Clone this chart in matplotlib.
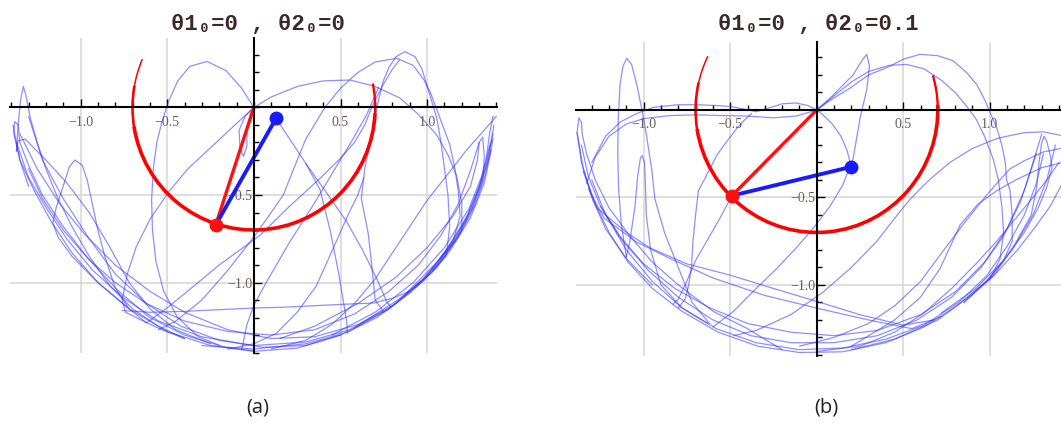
import matplotlib
matplotlib.use('Agg')
import matplotlib.pyplot as plt
from matplotlib.patches import Arc
from matplotlib.ticker import MultipleLocator

# ---------------- data ----------------
TITLE_A = "θ1₀=0 , θ2₀=0"
TITLE_B = "θ1₀=0 , θ2₀=0.1"
CAPTIONS = ["(a)", "(b)"]
X_TICKS = [-1.0, -0.5, 0.5, 1.0]
X_TICKLABELS = ["\u22121.0", "\u22120.5", "0.5", "1.0"]
Y_TICKS = [-1.0, -0.5]
Y_TICKLABELS = ["\u22121.0", "\u22120.5"]
GRID_X = [-1.0, -0.5, 0.5, 1.0]
GRID_Y = [-1.0, -0.5]
ARM1 = 0.7

# panel (a): pendulum state and traced path of bob 1 (arc angles in degrees)
A_BOB1 = (-0.22, -0.671)
A_BOB2 = (0.128, -0.062)
A_ARC = (156.8, 371.3)
# panel (b)
B_BOB1 = (-0.49, -0.49)
B_BOB2 = (0.2, -0.325)
B_ARC = (154.0, 376.4)

# traced strokes of bob 2 path, panel (a)
a01 = [(0,0),(-0.07,0.11),(-0.16,0.21),(-0.27,0.263),(-0.37,0.235),(-0.44,0.15),(-0.49,0.04),(-0.53,-0.08),(-0.56,-0.2),(-0.58,-0.35),(-0.59,-0.53),(-0.585,-0.7),(-0.565,-0.88),(-0.52,-1.05),(-0.44,-1.2),(-0.32,-1.31),(-0.17,-1.37),(0,-1.39)]
a02 = [(0,0),(-0.12,-0.11),(-0.25,-0.23),(-0.38,-0.35),(-0.49,-0.48),(-0.6,-0.64),(-0.68,-0.8),(-0.73,-0.95),(-0.76,-1.1),(-0.74,-1.17),(-0.66,-1.21),(-0.53,-1.27),(-0.4,-1.32)]
a03 = [(0,0),(0.1,0.06),(0.25,0.12),(0.4,0.152),(0.555,0.157),(0.7,0.12),(0.843,0.054),(0.95,-0.04),(1.055,-0.157),(1.12,-0.27),(1.17,-0.39),(1.2,-0.55),(1.2,-0.7),(1.13,-0.8),(1.05,-0.9),(0.93,-1.03)]
a04 = [(-0.55,-1.27),(-0.45,-1.22),(-0.3,-1.1),(-0.15,-0.93),(0.0,-0.74),(0.1,-0.6),(0.17,-0.5),(0.23,-0.35),(0.3,-0.18),(0.41,0.0),(0.5,0.11),(0.6,0.2),(0.7,0.26),(0.825,0.281),(0.92,0.24),(0.98,0.16),(1.017,0.09),(1.07,-0.05),(1.13,-0.21),(1.16,-0.35),(1.18,-0.48),(1.19,-0.62),(1.15,-0.76),(1.07,-0.87)]
a05 = [(0.75,-1.17),(0.7,-1.1),(0.68,-0.9),(0.66,-0.72),(0.62,-0.52),(0.64,-0.35),(0.68,-0.16),(0.71,0.0),(0.745,0.147),(0.78,0.23),(0.82,0.29),(0.872,0.319),(0.93,0.29),(0.97,0.22),(1.01,0.09),(1.055,-0.06),(1.08,-0.2),(1.1,-0.35),(1.12,-0.5),(1.13,-0.68),(1.11,-0.85),(1.03,-0.93)]
a06 = [(0.79,-1.14),(0.767,-1.11),(0.71,-0.98),(0.63,-0.82),(0.536,-0.653),(0.4,-0.46),(0.3,-0.32),(0.2,-0.17),(0.128,-0.062)]
a07 = [(0.635,-0.4),(0.6,-0.5),(0.55,-0.6),(0.46,-0.8),(0.36,-1.02),(0.25,-1.17),(0.13,-1.29),(0.0,-1.35),(-0.15,-1.38)]
a08 = [(0.84,0.27),(0.8,0.22),(0.74,0.12),(0.68,0.0),(0.64,-0.1),(0.58,-0.2),(0.5,-0.29),(0.382,-0.405),(0.2,-0.57),(0.036,-0.73),(-0.2,-0.9),(-0.407,-1.07),(-0.52,-1.16),(-0.62,-1.23)]
a09 = [(-0.76,-1.16),(-0.6,-1.17),(-0.4,-1.165),(-0.2,-1.155),(0.0,-1.146),(0.2,-1.14),(0.4,-1.13),(0.55,-1.123),(0.69,-1.117),(0.8,-1.09),(0.9,-1.05)]
a10 = [(-0.72,-1.15),(-0.9,-1.0),(-1.05,-0.85),(-1.13,-0.74),(-1.16,-0.66),(-1.14,-0.57),(-1.1,-0.45),(-1.065,-0.34),(-1.033,-0.3),(-0.99,-0.33),(-0.96,-0.42),(-0.93,-0.56),(-0.9,-0.7),(-0.86,-0.85),(-0.8,-1.03),(-0.72,-1.15),(-0.62,-1.23)]
a11 = [(-1.37,-0.25),(-1.36,-0.1),(-1.345,0.05),(-1.33,0.12),(-1.315,0.07),(-1.29,-0.06),(-1.25,-0.2),(-1.2,-0.35),(-1.13,-0.52),(-1.05,-0.68),(-0.95,-0.85),(-0.83,-1.02),(-0.7,-1.15),(-0.55,-1.25),(-0.4,-1.32)]
a12 = [(-1.3,-0.45),(-1.35,-0.3),(-1.385,-0.15),(-1.38,-0.08),(-1.36,-0.1),(-1.35,-0.2),(-1.3,-0.33),(-1.22,-0.5),(-1.1,-0.68),(-0.95,-0.87),(-0.78,-1.05),(-0.6,-1.2),(-0.4,-1.3),(-0.2,-1.36)]
a13 = [(-1.37,-0.25),(-1.36,-0.19),(-1.32,-0.18),(-1.28,-0.22),(-1.2,-0.3),(-1.08,-0.43),(-0.95,-0.6),(-0.83,-0.8),(-0.72,-1.0),(-0.6,-1.15),(-0.45,-1.27),(-0.25,-1.35)]
a14 = [(1.4,-0.05),(1.32,-0.14),(1.23,-0.24),(1.12,-0.38),(1.0,-0.53),(0.9,-0.68),(0.8,-0.83),(0.7,-0.98),(0.58,-1.12),(0.45,-1.24),(0.3,-1.33),(0.1,-1.38)]
a15 = [(0.58,-1.26),(0.83,-1.1),(1.03,-0.94),(1.17,-0.75),(1.26,-0.58),(1.32,-0.42),(1.33,-0.28),(1.32,-0.17),(1.3,-0.2),(1.29,-0.3),(1.25,-0.45),(1.15,-0.62),(1.0,-0.8),(0.82,-0.97),(0.6,-1.12),(0.35,-1.25),(0.15,-1.32)]
a16 = [(0.88,-1.06),(1.08,-0.86),(1.22,-0.65),(1.3,-0.46),(1.36,-0.28),(1.38,-0.18),(1.36,-0.22),(1.32,-0.38),(1.24,-0.58),(1.1,-0.8),(0.92,-1.0),(0.7,-1.17),(0.45,-1.3)]
a17 = [(0,0),(-0.05,-0.05),(-0.085,-0.13),(-0.08,-0.23),(-0.06,-0.28),(-0.04,-0.22),(-0.04,-0.12),(-0.02,-0.04),(0,0)]
a18 = [(-1.39,-0.1),(-1.35,-0.3),(-1.27,-0.47),(-1.17,-0.65),(-1.05,-0.83),(-0.9,-1.0),(-0.72,-1.15),(-0.5,-1.28),(-0.25,-1.36),(0,-1.393),(0.25,-1.375),(0.5,-1.3),(0.71,-1.2),(0.9,-1.06),(1.06,-0.91),(1.18,-0.74),(1.28,-0.55),(1.34,-0.37),(1.385,-0.1)]
a19 = [(-1.37,-0.2),(-1.3,-0.4),(-1.2,-0.57),(-1.08,-0.75),(-0.93,-0.93),(-0.75,-1.09),(-0.55,-1.22),(-0.3,-1.31),(0,-1.36),(0.3,-1.34),(0.55,-1.27),(0.78,-1.15),(0.98,-0.99),(1.13,-0.82),(1.25,-0.63),(1.33,-0.43),(1.37,-0.24)]
a20 = [(-1.35,-0.15),(-1.25,-0.35),(-1.12,-0.55),(-0.98,-0.72),(-0.8,-0.9),(-0.6,-1.05),(-0.4,-1.17),(-0.15,-1.27),(0.1,-1.32),(0.35,-1.31),(0.6,-1.24),(0.82,-1.12),(1.0,-0.96),(1.15,-0.77),(1.26,-0.57),(1.33,-0.37),(1.38,-0.15)]
a21 = [(-1.3,-0.05),(-1.22,-0.3),(-1.1,-0.52),(-0.95,-0.75),(-0.8,-0.95),(-0.62,-1.12),(-0.42,-1.25),(-0.2,-1.33),(0.05,-1.37),(0.3,-1.36),(0.5,-1.3)]
a22 = [(0.72,0.115),(0.65,-0.043),(0.56,-0.2),(0.45,-0.38),(0.343,-0.557),(0.2,-0.78),(0.074,-0.995),(0.0,-1.13),(-0.04,-1.24),(-0.07,-1.385)]
a23 = [(-1.3,-0.35),(-1.22,-0.52),(-1.1,-0.7),(-0.96,-0.86),(-0.8,-1.0),(-0.62,-1.12),(-0.4,-1.22),(-0.15,-1.28),(0.1,-1.3),(0.35,-1.27),(0.58,-1.18),(0.78,-1.05),(0.95,-0.9),(1.08,-0.73),(1.18,-0.55),(1.25,-0.36),(1.3,-0.2)]
a24 = [(-0.3,-1.36),(0.0,-1.38),(0.3,-1.35),(0.55,-1.28),(0.78,-1.15),(0.98,-0.98),(1.12,-0.8),(1.23,-0.62),(1.3,-0.45),(1.34,-0.3),(1.36,-0.15),(1.38,-0.05)]
a25 = [(0.3,-0.32),(0.382,-0.47),(0.44,-0.7),(0.49,-0.95),(0.536,-1.224),(0.54,-1.29)]
A_STROKES = [a01,a02,a03,a04,a05,a06,a07,a08,a09,a10,a11,a12,a13,a14,a15,a16,a17,a18,a19,a20,a21,a22,a23,a24,a25]

# traced strokes of bob 2 path, panel (b)
b01 = [(-1.1,-0.84),(-1.13,-0.65),(-1.145,-0.45),(-1.15,-0.25),(-1.147,-0.05),(-1.137,0.145),(-1.12,0.25),(-1.098,0.295),(-1.07,0.26),(-1.04,0.145),(-1.01,0.0),(-0.99,-0.106),(-0.954,-0.337),(-0.935,-0.51),(-0.88,-0.7),(-0.79,-0.925),(-0.72,-1.1),(-0.62,-1.22)]
b02 = [(-1.1,-0.84),(-1.08,-0.75),(-1.05,-0.55),(-1.035,-0.38),(-1.02,-0.28),(-1.01,-0.26),(-0.995,-0.3),(-0.99,-0.42),(-0.985,-0.6),(-0.96,-0.8),(-0.9,-1.0),(-0.78,-1.13),(-0.63,-1.22)]
b03 = [(-0.95,-1.0),(-1.1,-0.85),(-1.22,-0.68),(-1.3,-0.5),(-1.36,-0.3),(-1.385,-0.13),(-1.375,-0.045),(-1.36,-0.07),(-1.355,-0.14),(-1.33,-0.25),(-1.28,-0.4),(-1.2,-0.56),(-1.08,-0.72),(-0.95,-0.87),(-0.8,-1.0),(-0.6,-1.15),(-0.4,-1.25),(-0.2,-1.37)]
b04 = [(-1.3,-0.3),(-1.22,-0.15),(-1.137,-0.07),(-1.04,-0.02),(-0.944,0.015),(-0.8,0.03),(-0.694,0.03),(-0.58,0.025),(-0.5,0.02),(-0.42,0.005),(-0.35,-0.01),(-0.28,0.01),(-0.2,0.035),(-0.12,0.04),(-0.05,0.025),(0,0)]
b05 = [(-1.33,-0.42),(-1.28,-0.27),(-1.2,-0.15),(-1.1,-0.08),(-1.0,-0.05),(-0.85,-0.032),(-0.7,-0.028),(-0.55,-0.032),(-0.4,-0.035),(-0.25,-0.045),(-0.12,-0.035),(-0.05,-0.015),(0,0)]
b06 = [(0,0),(0.08,0.07),(0.15,0.14),(0.21,0.2),(0.26,0.28),(0.289,0.318),(0.305,0.25),(0.29,0.12),(0.25,-0.05),(0.21,-0.28),(0.15,-0.43),(0.077,-0.55),(-0.02,-0.676),(-0.12,-0.79),(-0.23,-0.905),(-0.36,-1.03),(-0.48,-1.15),(-0.6,-1.24)]
b07 = [(0,0),(0.07,0.05),(0.193,0.125),(0.3,0.2),(0.424,0.25),(0.5,0.29),(0.597,0.318),(0.7,0.31),(0.79,0.28),(0.87,0.21),(0.925,0.145),(0.97,0.06),(1.0,-0.01),(1.04,-0.1),(1.07,-0.2),(1.09,-0.3),(1.097,-0.395),(1.117,-0.46),(1.13,-0.6),(1.13,-0.75),(1.08,-0.86),(0.98,-0.98),(0.85,-1.1)]
b08 = [(0,0),(0.1,0.08),(0.2,0.16),(0.3,0.22),(0.42,0.255),(0.52,0.26),(0.62,0.235),(0.72,0.17),(0.8,0.1),(0.86,0.03),(0.92,-0.05),(0.97,-0.15),(1.02,-0.28),(1.05,-0.4),(1.07,-0.55),(1.08,-0.7),(1.06,-0.85),(1.0,-0.97)]
b09 = [(1.41,-0.145),(1.31,-0.125),(1.2,-0.13),(1.1,-0.15),(1.04,-0.164),(0.9,-0.22),(0.77,-0.3),(0.65,-0.4),(0.54,-0.51),(0.45,-0.62),(0.347,-0.751),(0.2,-0.9),(0.038,-1.04),(-0.15,-1.17),(-0.35,-1.26),(-0.48,-1.29)]
b10 = [(1.41,-0.22),(1.31,-0.24),(1.2,-0.29),(1.117,-0.337),(1.04,-0.42),(0.963,-0.51),(0.85,-0.65),(0.72,-0.82),(0.6,-0.98),(0.45,-1.12),(0.3,-1.22),(0.1,-1.3),(-0.1,-1.35)]
b11 = [(-0.376,-0.02),(-0.42,-0.06),(-0.462,-0.106),(-0.52,-0.18),(-0.578,-0.26),(-0.64,-0.38),(-0.684,-0.462),(-0.7,-0.6),(-0.715,-0.75),(-0.723,-0.886),(-0.74,-1.0),(-0.76,-1.08),(-0.8,-1.13)]
b12 = [(-0.49,-0.49),(-0.56,-0.62),(-0.63,-0.74),(-0.7,-0.86),(-0.76,-1.0),(-0.8,-1.08),(-0.83,-1.11)]
b13 = [(-1.35,-0.35),(-1.27,-0.56),(-1.1,-0.7),(-0.96,-0.79),(-0.75,-0.88),(-0.5,-0.944),(-0.25,-1.02),(0.02,-1.1),(0.25,-1.17),(0.5,-1.23),(0.68,-1.2)]
b14 = [(-1.32,-0.45),(-1.23,-0.617),(-1.05,-0.75),(-0.85,-0.848),(-0.6,-0.96),(-0.3,-1.06),(0.02,-1.137),(0.3,-1.2),(0.55,-1.25),(0.72,-1.18)]
b15 = [(0,0),(0.038,-0.03),(0.09,-0.08),(0.14,-0.15),(0.175,-0.23),(0.2,-0.325)]
b16 = [(0.85,-1.1),(1.02,-0.95),(1.15,-0.76),(1.24,-0.6),(1.27,-0.45),(1.285,-0.3),(1.3,-0.19),(1.315,-0.15),(1.33,-0.18),(1.35,-0.26),(1.36,-0.33),(1.33,-0.44),(1.28,-0.56),(1.2,-0.7),(1.08,-0.86),(0.92,-1.02),(0.72,-1.16)]
b17 = [(-1.385,-0.13),(-1.35,-0.33),(-1.29,-0.52),(-1.2,-0.7),(-1.09,-0.87),(-0.95,-1.02),(-0.78,-1.15),(-0.57,-1.27),(-0.34,-1.35),(-0.1,-1.386),(0.15,-1.382),(0.4,-1.33),(0.62,-1.24),(0.81,-1.12),(0.99,-0.97),(1.13,-0.8),(1.25,-0.6),(1.33,-0.4),(1.38,-0.2)]
b18 = [(-1.3,-0.4),(-1.22,-0.6),(-1.1,-0.8),(-0.95,-0.98),(-0.78,-1.13),(-0.58,-1.25),(-0.35,-1.33),(-0.1,-1.37),(0.15,-1.36),(0.4,-1.31),(0.62,-1.23),(0.82,-1.1),(0.98,-0.95),(1.1,-0.78),(1.2,-0.6),(1.27,-0.42),(1.31,-0.25)]
b19 = [(-1.25,-0.55),(-1.12,-0.75),(-0.97,-0.92),(-0.8,-1.07),(-0.6,-1.2),(-0.38,-1.29),(-0.15,-1.33),(0.1,-1.33),(0.35,-1.29),(0.58,-1.2),(0.78,-1.07),(0.95,-0.9),(1.08,-0.72),(1.18,-0.52),(1.25,-0.3),(1.3,-0.14)]
b20 = [(1.4,-0.3),(1.33,-0.4),(1.25,-0.5),(1.15,-0.62),(1.04,-0.75),(0.92,-0.88),(0.78,-1.02),(0.62,-1.16),(0.45,-1.27),(0.25,-1.35),(0.0,-1.38)]
b21 = [(1.42,-0.42),(1.35,-0.55),(1.27,-0.66),(1.16,-0.8),(1.03,-0.94),(0.9,-1.05),(0.7,-1.2),(0.45,-1.31),(0.2,-1.37)]
b22 = [(0.2,-1.35),(0.45,-1.2),(0.6,-1.07),(0.713,-0.906),(0.83,-0.655),(0.93,-0.54),(1.04,-0.462),(1.15,-0.4),(1.3,-0.33),(1.42,-0.3)]
b23 = [(-1.36,-0.2),(-1.32,-0.38),(-1.25,-0.55),(-1.14,-0.72),(-1.0,-0.88),(-0.82,-1.02),(-0.62,-1.13),(-0.4,-1.22),(-0.15,-1.27),(0.1,-1.29),(0.35,-1.26),(0.6,-1.17),(0.8,-1.04),(0.97,-0.87),(1.1,-0.68),(1.2,-0.46),(1.27,-0.25)]
B_STROKES = [b01,b02,b03,b04,b05,b06,b07,b08,b09,b10,b11,b12,b13,b14,b15,b16,b17,b18,b19,b20,b21,b22,b23]

# ---------------- figure ----------------
W, H = 1061, 428
fig = plt.figure(figsize=(W / 100, H / 100), dpi=100)
fig.patch.set_facecolor('white')

TRACE_COLOR = (0.2, 0.2, 1.0)
LABEL_COLOR = '#6e5a5a'
TITLE_COLOR = '#3c2828'


def make_axes(rect, xlim, ylim):
    ax = fig.add_axes(rect)
    ax.set_xlim(*xlim)
    ax.set_ylim(*ylim)
    for s in ['top', 'right']:
        ax.spines[s].set_visible(False)
    for s in ['left', 'bottom']:
        ax.spines[s].set_position(('data', 0))
        ax.spines[s].set_linewidth(1.5)
        ax.spines[s].set_color('black')
        ax.spines[s].set_zorder(6)
    ax.set_xticks(X_TICKS, labels=X_TICKLABELS)
    ax.set_yticks(Y_TICKS, labels=Y_TICKLABELS)
    ax.xaxis.set_minor_locator(MultipleLocator(0.1))
    ax.yaxis.set_minor_locator(MultipleLocator(0.1))
    ax.tick_params(which='both', direction='in', color='black', width=1.0, zorder=6)
    ax.tick_params(which='major', length=5.5)
    ax.tick_params(which='minor', length=3.5)
    ax.tick_params(axis='x', pad=6, labelsize=10, labelcolor=LABEL_COLOR)
    ax.tick_params(axis='y', pad=1, labelsize=10, labelcolor=LABEL_COLOR)
    for lab in ax.get_xticklabels() + ax.get_yticklabels():
        lab.set_fontfamily(['Liberation Serif', 'DejaVu Serif'])
        lab.set_zorder(7)
    for gx in GRID_X:
        ax.axvline(gx, color='#d6d6d6', lw=1.1, zorder=0)
    for gy in GRID_Y:
        ax.axhline(gy, color='#d6d6d6', lw=1.1, zorder=0)
    return ax


def draw_panel(ax, strokes, bob1, bob2, arc):
    for st in strokes:
        xs = [p[0] for p in st]
        ys = [p[1] for p in st]
        ax.plot(xs, ys, color=TRACE_COLOR, alpha=0.55, lw=0.9,
                solid_joinstyle='round', solid_capstyle='round', zorder=2)
    t0, t1 = arc
    # path of bob 1 (thin at the start, thicker afterwards)
    ax.add_patch(Arc((0, 0), 2 * ARM1, 2 * ARM1, theta1=t0, theta2=t0 + 14,
                     color='red', lw=1.1, zorder=3))
    ax.add_patch(Arc((0, 0), 2 * ARM1, 2 * ARM1, theta1=t0 + 13, theta2=190,
                     color='red', lw=1.9, zorder=3))
    ax.add_patch(Arc((0, 0), 2 * ARM1, 2 * ARM1, theta1=189, theta2=t1 - 14,
                     color='red', lw=2.6, zorder=3))
    ax.add_patch(Arc((0, 0), 2 * ARM1, 2 * ARM1, theta1=t1 - 15, theta2=t1,
                     color='red', lw=1.7, zorder=3))
    ax.plot([0, bob1[0]], [0, bob1[1]], color='#ff1010', lw=2.4, zorder=4,
            solid_capstyle='round')
    ax.plot([bob1[0], bob2[0]], [bob1[1], bob2[1]], color='#1a1aff', lw=2.8,
            zorder=4, solid_capstyle='round')
    ax.plot([bob1[0]], [bob1[1]], 'o', color='#ff1010', ms=9, zorder=5)
    ax.plot([bob2[0]], [bob2[1]], 'o', color='#1a1aff', ms=9, zorder=5)


ax_a = make_axes([10 / W, (H - 352.7) / H, 487 / W, 314.7 / H],
                 (-1.407, 1.403), (-1.401, 0.397))
draw_panel(ax_a, A_STROKES, A_BOB1, A_BOB2, A_ARC)

ax_b = make_axes([575.7 / W, (H - 356) / H, 485.3 / W, 314.3 / H],
                 (-1.393, 1.412), (-1.406, 0.39))
draw_panel(ax_b, B_STROKES, B_BOB1, B_BOB2, B_ARC)

title_font = dict(family=['Liberation Mono', 'DejaVu Sans Mono'], weight='bold',
                  size=16, color=TITLE_COLOR, ha='center', va='center')
fig.text(258 / W, 1 - 24 / H, TITLE_A, **title_font)
fig.text(818 / W, 1 - 24 / H, TITLE_B, **title_font)

cap_font = dict(family=['Open Sans', 'DejaVu Sans'], size=14.5, color='#222222',
                ha='center', va='center')
fig.text(258 / W, 1 - 407 / H, CAPTIONS[0], **cap_font)
fig.text(826 / W, 1 - 407 / H, CAPTIONS[1], **cap_font)

fig.savefig('out.png', dpi=100, facecolor='white')
